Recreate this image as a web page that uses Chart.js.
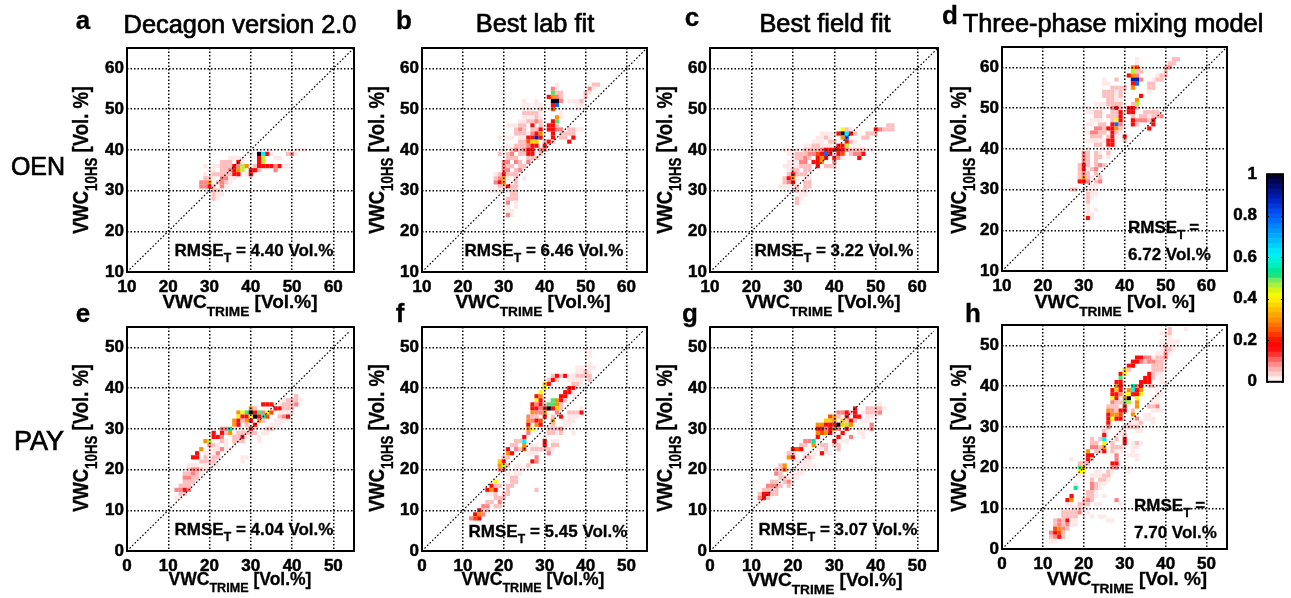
<!DOCTYPE html>
<html>
<head>
<meta charset="utf-8">
<script src="https://cdn.jsdelivr.net/npm/chart.js@4/dist/chart.umd.min.js"></script>
<style>
  html, body { margin: 0; padding: 0; background: #fff; overflow: hidden; }
  #page { position: relative; width: 1291px; height: 598px; font-family: "Liberation Sans", Arial, sans-serif; color: #000; filter: blur(.3px); }
  canvas { position: absolute; }
  .lbl { position: absolute; white-space: nowrap; font-weight: bold; line-height: 1; -webkit-text-stroke: .3px #000; }
  .lbl sub { font-size: .72em; line-height: 0; vertical-align: -.55em; }
  .reg { font-weight: normal; -webkit-text-stroke: .7px #000; }
</style>
</head>
<body>
<div id="page"></div>
<script>
// relative frequency levels
const P = .02, K = .05, S = .09, R = .16, E = .24, O = .3, A = .36, Y = .41, L = .46, G = .5, T = .54, C = .62, B = .78, N = .9, D = 1;

// every row is [VWC_10HS, VWC_TRIME, level, VWC_TRIME, level, ...]
const oenDecagon = [
  [40, 51,P, 52,P, 53,P, 44,P],
  [39, 40,P, 42,D, 43,C, 44,R, 45,P, 49,K, 50,S, 51,P],
  [38, 35,P, 36,P, 37,P, 38,P, 42,R, 43,L, 46,P, 47,P],
  [37, 33,K, 34,K, 35,K, 37,R, 38,P, 42,R, 43,L],
  [36, 29,P, 31,P, 32,P, 33,K, 34,K, 35,K, 36,R, 37,S, 38,L, 39,O, 41,K, 42,R, 43,R, 44,R, 45,R, 46,S, 47,R, 48,P, 49,P],
  [35, 30,P, 31,P, 33,K, 34,K, 35,S, 36,R, 37,O, 38,L, 40,R, 41,R, 42,K, 46,S],
  [34, 29,P, 31,K, 32,K, 33,K, 34,K, 35,K, 36,R, 37,R, 39,P, 40,R],
  [33, 29,K, 30,K, 31,P, 33,S, 34,S, 35,P, 36,P],
  [32, 28,S, 29,S, 30,O, 32,K, 33,S, 34,K, 35,P],
  [31, 28,S, 29,S, 30,R, 31,K, 33,S, 34,P],
  [30, 31,K, 32,K, 33,P],
  [29, 31,K, 32,P, 33,P],
  [28, 31,K, 32,P]
];

const oenLabFit = [
  [56, 43,P, 52,K, 53,K],
  [55, 42,S, 43,P, 51,S, 52,P],
  [54, 42,G, 43,K, 44,K, 50,K, 51,P],
  [53, 41,R, 42,O, 43,S, 44,K, 50,K],
  [52, 35,P, 38,P, 42,D, 43,D, 44,S, 46,P, 47,P, 48,P, 49,K],
  [51, 35,P, 36,P, 38,P, 39,P, 42,R, 43,B, 48,P, 49,P],
  [50, 35,P, 36,P, 37,P, 39,K, 42,E, 48,P],
  [49, 35,K, 36,K, 37,K, 38,K, 39,P, 44,P],
  [48, 35,P, 36,P, 37,P, 38,K, 39,P, 43,O, 44,P],
  [47, 34,P, 35,P, 36,K, 37,K, 38,S, 39,K, 42,R, 43,G],
  [46, 31,P, 32,P, 33,P, 34,K, 35,K, 37,R, 39,K, 41,R, 42,R, 43,K],
  [45, 33,K, 34,S, 35,K, 37,K, 38,K, 39,R, 41,R, 42,R, 43,S, 44,S, 46,K, 47,K, 48,P, 49,P],
  [44, 33,K, 34,K, 35,K, 36,P, 37,S, 38,R, 39,O, 42,R, 44,K, 45,K, 46,K, 47,K],
  [43, 29,P, 31,P, 32,P, 34,P, 35,P, 36,R, 37,R, 38,N, 39,R, 42,R, 44,K, 45,K, 47,R],
  [42, 34,K, 35,K, 36,E, 37,A, 38,A, 40,K, 41,R, 42,K, 46,R],
  [41, 31,P, 33,K, 34,K, 35,K, 36,S, 37,R, 38,R, 40,R],
  [40, 30,P, 32,K, 33,S, 34,K, 35,S, 36,R, 37,R, 39,S, 40,S],
  [39, 29,K, 31,K, 32,S, 34,K, 35,K, 36,R, 37,R, 39,K],
  [38, 31,K, 32,K, 33,K, 36,K, 37,K, 38,K],
  [37, 30,S, 31,S, 33,S, 34,K, 36,S],
  [36, 30,S, 31,K, 32,K, 34,K, 35,K],
  [35, 30,S, 31,S, 33,K, 34,S],
  [34, 28,P, 29,K, 30,R, 31,K, 32,K, 33,K],
  [33, 28,K, 29,S, 30,O, 31,P, 33,K, 35,P],
  [32, 28,S, 29,R, 30,O, 33,K],
  [31, 29,K, 30,K, 31,R, 32,K, 33,K],
  [30, 27,P, 28,P, 29,P, 31,P, 32,K, 33,K],
  [29, 32,K, 33,K],
  [28, 31,K, 32,K, 33,K],
  [27, 31,S, 33,P],
  [26, 31,P, 33,P],
  [25, 31,P, 32,P],
  [24, 31,S, 32,P]
];

const oenFieldFit = [
  [46, 53,K, 54,K],
  [45, 42,Y, 43,K, 44,P, 50,R, 51,S, 52,K, 53,K, 54,K],
  [44, 37,P, 38,P, 39,P, 40,P, 41,R, 42,D, 43,C, 44,R, 45,K, 48,K, 49,K, 50,K],
  [43, 36,P, 37,P, 38,K, 39,P, 42,O, 43,B, 47,K, 48,K],
  [42, 35,P, 36,P, 37,P, 39,K, 40,K, 43,R, 44,K, 45,P],
  [41, 33,P, 34,P, 35,K, 36,K, 37,P, 38,P, 39,P, 40,P, 41,R, 42,R, 43,L],
  [40, 28,P, 29,P, 31,P, 33,K, 34,K, 35,K, 36,K, 37,S, 38,R, 39,R, 40,R, 41,R, 42,R, 43,S, 44,K, 45,K, 46,K, 47,K, 48,P, 49,P],
  [39, 29,P, 30,P, 31,K, 32,K, 33,K, 34,S, 35,S, 36,E, 37,R, 38,B, 39,R, 41,R, 42,E, 44,K, 45,S, 46,S, 47,R],
  [38, 30,P, 31,K, 32,K, 33,S, 34,K, 36,R, 37,O, 38,R, 40,R, 41,S, 42,P, 46,R],
  [37, 29,P, 30,P, 31,P, 32,S, 33,S, 35,R, 36,R, 37,O, 40,S],
  [36, 28,P, 29,P, 30,P, 31,P, 32,K, 33,K, 34,K, 36,R, 38,K, 39,K, 40,K],
  [35, 29,P, 30,K, 31,K, 33,K, 34,K],
  [34, 29,K, 30,R, 31,K, 32,K, 33,K],
  [33, 28,K, 29,R, 30,O, 31,P, 33,P, 34,P],
  [32, 28,K, 29,S, 30,R, 33,K, 34,K],
  [31, 27,P, 28,P, 29,P, 30,P, 31,K, 33,K, 34,K],
  [30, 31,K, 32,P, 33,K],
  [29, 32,P, 33,P],
  [28, 31,K, 32,P],
  [27, 31,K]
];

const oenMixing = [
  [62, 43,P, 52,K, 53,K],
  [61, 43,P, 51,K, 52,K],
  [60, 42,O, 43,E, 50,K, 51,S],
  [59, 42,L, 43,K, 44,K, 50,K],
  [58, 41,R, 42,O, 43,S, 48,P, 49,K, 50,K],
  [57, 35,P, 38,K, 42,N, 43,N, 44,S, 47,P, 48,K, 49,K],
  [56, 35,P, 36,P, 42,R, 43,B, 46,K, 47,K],
  [55, 37,K, 38,K, 39,K, 40,K, 42,O, 46,K, 47,K],
  [54, 35,K, 36,K, 37,K, 38,P, 39,K, 46,P],
  [53, 35,K, 36,K, 37,K, 38,P, 39,K, 44,R],
  [52, 36,K, 37,K, 38,P, 39,P, 43,O],
  [51, 33,P, 34,P, 35,P, 36,K, 37,K, 38,K, 39,K, 42,K, 43,L],
  [50, 31,P, 34,P, 35,P, 37,S, 38,R, 39,K, 41,R, 42,R, 43,K],
  [49, 31,P, 32,P, 33,K, 34,K, 37,K, 38,K, 39,R, 41,R, 42,R, 45,K, 46,K, 47,K, 48,K],
  [48, 33,K, 34,K, 36,K, 37,K, 38,K, 39,R, 42,K, 44,K, 45,K, 46,P, 47,K, 48,K, 49,S],
  [47, 32,P, 33,P, 34,P, 37,K, 38,Y, 39,R, 42,R, 43,S, 44,S, 45,S, 46,K, 47,R],
  [46, 31,P, 32,P, 34,K, 35,K, 37,R, 38,B, 39,S, 42,R, 43,K, 47,R],
  [45, 30,P, 33,S, 34,S, 35,K, 36,R, 37,R, 38,O, 39,K, 46,R],
  [44, 31,P, 32,S, 33,S, 34,K, 35,K, 37,R, 38,K, 39,P],
  [43, 32,K, 33,K, 34,K, 36,K, 37,R, 38,P, 40,R],
  [42, 31,P, 32,P, 33,P, 34,P, 35,P, 36,R, 37,R, 40,K],
  [41, 33,K, 34,K, 36,R, 37,R],
  [40, 31,P, 35,P, 36,P],
  [39, 30,S, 31,K, 33,K, 34,P, 36,K],
  [38, 30,S, 31,K, 33,K, 34,K, 36,P],
  [37, 30,S, 31,K, 33,K],
  [36, 29,K, 30,R, 31,K, 33,K, 34,S, 35,K],
  [35, 29,K, 30,R, 31,P, 32,K, 33,S],
  [34, 29,K, 30,S, 31,K, 33,K],
  [33, 29,K, 30,O, 31,K, 32,P, 34,K],
  [32, 29,R, 30,R, 31,S, 33,K, 34,S],
  [31, 32,P, 33,P],
  [30, 27,K, 28,K, 31,P, 32,P, 33,P],
  [29, 31,K, 32,P, 33,P],
  [28, 31,K, 32,P],
  [27, 31,K],
  [26, 31,P],
  [25, 31,P, 33,P],
  [24, 31,P, 32,P],
  [23, 31,R, 32,P]
];

const payDecagon = [
  [38, 41,K],
  [37, 38,P, 39,K, 40,K, 41,K, 42,P],
  [36, 33,R, 34,R, 35,R, 37,P, 38,K, 39,K, 40,K, 41,S],
  [35, 30,O, 31,K, 36,R, 37,R, 38,K, 39,K, 40,K],
  [34, 27,O, 28,Y, 29,G, 30,D, 31,R, 32,G, 33,S, 34,Y, 35,E, 37,P, 38,P, 39,P, 40,P],
  [33, 27,Y, 28,R, 29,R, 30,Y, 31,D, 32,R, 33,T, 34,E, 37,K, 38,S, 39,R],
  [32, 26,O, 27,R, 28,K, 29,O, 30,R, 32,O, 33,K, 36,P, 37,P, 38,P],
  [31, 26,O, 27,R, 29,K, 31,R, 35,P, 36,P, 37,P],
  [30, 23,S, 24,S, 25,T, 26,P, 28,P, 30,R, 34,K, 35,K],
  [29, 21,R, 23,R, 24,K, 25,O, 27,K, 28,K, 29,K, 30,K, 31,K, 33,P, 34,P],
  [28, 21,R, 22,R, 23,S, 26,K, 27,K, 28,R, 29,P, 32,P],
  [27, 19,O, 20,L, 23,K, 24,P, 26,K, 27,K, 28,K, 32,P],
  [26, 20,S, 21,K, 22,P, 24,P, 26,P],
  [25, 18,O, 20,P, 21,P, 22,P, 23,S, 24,P, 25,P],
  [24, 17,R, 19,P, 20,P, 21,P, 22,S],
  [23, 16,R, 17,R, 19,K, 21,K, 22,K, 28,P, 29,P],
  [22, 18,K, 19,K, 20,K, 21,K, 28,P],
  [21, 15,P, 16,P, 17,P, 19,P, 20,P, 21,P, 22,P],
  [20, 15,K, 16,S, 17,S, 18,K, 19,P],
  [19, 14,K, 15,K, 16,S, 17,K, 18,P],
  [18, 14,S, 15,S, 16,K, 17,K],
  [17, 14,K, 15,K, 16,K],
  [16, 13,K, 14,K, 15,K],
  [15, 12,S, 13,S, 14,R, 15,S],
  [14, 13,K, 14,K],
  [13, 12,P, 13,P]
];

const payLabFit = [
  [49, 41,P],
  [48, 41,P],
  [46, 41,P],
  [45, 38,P, 39,P, 40,P, 41,P, 42,P],
  [44, 38,P, 39,P, 40,K, 41,P],
  [43, 32,K, 33,R, 34,K, 35,R, 36,P, 37,P, 38,K, 39,K, 40,K, 41,K],
  [42, 31,K, 32,R, 33,K, 36,P, 37,P, 38,P, 39,P, 41,K],
  [41, 30,A, 31,R, 37,K, 38,K, 39,P],
  [40, 30,Y, 36,R, 37,R, 38,P],
  [39, 29,Y, 30,P, 35,R, 36,R, 37,P],
  [38, 28,R, 29,O, 34,R, 35,R, 37,P],
  [37, 28,Y, 29,R, 31,P, 32,G, 33,O, 34,R, 35,K],
  [36, 27,R, 28,S, 29,R, 30,K, 31,G, 32,G, 33,O, 34,K],
  [35, 27,R, 28,R, 29,S, 30,R, 31,D, 32,R, 33,A, 34,K, 39,P],
  [34, 27,O, 28,S, 29,S, 30,O, 33,S, 36,K, 37,K, 38,K, 39,R],
  [33, 26,S, 27,K, 28,K, 30,R, 32,K, 34,R, 36,P, 37,P, 38,P],
  [32, 26,O, 27,S, 28,R, 29,E, 32,O, 35,P, 36,P, 37,P],
  [31, 26,R, 28,O, 29,R, 32,K, 35,P, 36,P],
  [30, 26,O, 27,Y, 31,K, 32,K, 33,K, 34,S],
  [29, 26,S, 31,K, 32,K, 33,P, 34,K, 37,P],
  [28, 25,R, 30,P],
  [27, 23,K, 24,K, 25,C, 30,R, 32,P, 33,P],
  [26, 22,K, 23,K, 25,O, 27,P, 28,P, 30,R, 32,K, 33,K],
  [25, 21,R, 23,S, 24,K, 25,E, 27,K, 28,K, 29,K, 30,K, 31,K, 32,P],
  [24, 21,O, 22,R, 26,P, 27,P, 28,P, 31,S],
  [23, 20,K, 21,K, 28,S],
  [22, 19,A, 20,R, 21,P, 27,R, 28,S],
  [21, 19,O, 20,L, 21,K, 23,P, 24,P, 26,K],
  [20, 19,S, 20,S, 23,P, 24,P, 25,P],
  [19, 21,P, 23,P, 24,P],
  [18, 22,K, 23,K],
  [17, 18,Y, 22,K, 23,K],
  [16, 17,R, 18,K, 19,K, 21,K, 22,K],
  [15, 16,R, 17,O, 18,R, 21,K, 28,K],
  [14, 16,P, 17,P, 18,K, 20,K, 21,K],
  [13, 18,K, 19,K, 20,K],
  [12, 16,K, 17,K, 19,S, 20,P],
  [11, 15,S, 16,S, 18,K, 19,K],
  [10, 14,R, 15,K, 16,K],
  [9, 13,R, 14,O, 15,S],
  [8, 12,S, 13,E, 14,R]
];

const payFieldFit = [
  [36, 41,P],
  [35, 35,R, 38,K, 39,K, 40,K, 41,K, 42,P],
  [34, 31,S, 32,S, 33,R, 34,K, 35,R, 37,P, 38,K, 39,K, 40,K, 41,S],
  [33, 29,E, 30,O, 31,K, 33,R, 35,R, 36,R, 38,P, 39,P, 40,P],
  [32, 28,A, 29,A, 30,O, 32,A, 33,K, 34,R, 35,K, 37,P, 38,P],
  [31, 26,O, 27,O, 28,R, 29,R, 30,R, 31,D, 32,A, 33,L, 34,O, 39,S],
  [30, 26,R, 27,R, 28,S, 29,R, 30,O, 31,S, 33,R, 36,P, 37,P, 38,P, 39,S],
  [29, 26,O, 27,E, 28,O, 29,R, 32,R, 36,P, 37,P],
  [28, 26,R, 31,R, 34,S, 37,P],
  [27, 23,S, 24,S, 25,T, 30,R, 32,P, 33,P],
  [26, 22,K, 23,K, 25,O, 27,K, 28,K, 30,K, 31,K],
  [25, 20,R, 21,E, 22,R, 26,P, 27,P, 28,K, 31,K],
  [24, 19,K, 20,K, 23,P, 24,P, 25,P, 27,R, 28,P, 29,P],
  [23, 19,O, 20,R, 23,K, 24,K, 25,P],
  [22, 21,P, 22,P, 23,P, 24,P],
  [21, 17,K, 18,O, 22,P, 23,P, 24,P, 25,P],
  [20, 16,K, 17,K, 18,E, 21,P, 22,P, 23,P, 28,P],
  [19, 16,S, 17,K, 19,P, 20,P, 21,P, 22,P],
  [18, 17,K, 18,K, 19,P, 20,P, 21,P],
  [17, 15,K, 16,K, 18,K, 19,S, 20,P],
  [16, 14,S, 15,S, 16,S, 17,K, 19,K],
  [15, 13,K, 14,K, 15,K, 16,K],
  [14, 12,K, 13,R, 14,R, 15,K, 16,K],
  [13, 12,S, 13,R, 14,K],
  [12, 12,P]
];

const payMixing = [
  [54, 41,K, 45,P],
  [53, 39,P, 40,P, 41,K],
  [52, 40,P, 41,P],
  [51, 39,P, 41,P, 42,P, 43,P],
  [50, 39,P, 40,K, 41,P, 42,P],
  [49, 39,P, 40,K, 41,K, 42,P],
  [48, 38,P, 39,P, 40,S, 41,P],
  [47, 33,R, 34,R, 35,S, 36,S, 37,P, 38,K, 39,K, 40,S],
  [46, 32,R, 33,R, 34,S, 35,K, 36,S, 37,S, 38,K, 39,K, 40,P],
  [45, 31,R, 32,R, 37,K, 38,K, 39,K, 40,P],
  [44, 30,A, 31,K, 37,K, 38,K, 39,K, 40,P],
  [43, 29,R, 30,Y, 36,R, 37,K, 38,P, 39,P],
  [42, 29,G, 35,R, 36,R, 37,K, 39,P],
  [41, 28,R, 29,R, 34,R, 35,R, 36,R, 39,P, 40,P],
  [40, 28,O, 29,R, 32,T, 33,S, 34,R, 36,K, 37,K],
  [39, 27,R, 28,A, 29,R, 31,O, 32,C, 33,R, 34,O, 38,P],
  [38, 27,R, 28,R, 29,S, 30,Y, 31,Y, 32,R, 33,R, 34,Y, 38,P, 39,P],
  [37, 27,Y, 28,R, 29,P, 30,O, 31,D, 33,Y, 37,P, 38,P],
  [36, 27,S, 28,K, 29,K, 30,G, 31,L, 33,O, 37,P, 38,P],
  [35, 26,K, 27,K, 28,K, 30,R, 33,O, 36,K, 37,K, 38,S],
  [34, 26,O, 27,S, 28,K, 29,R, 30,R, 32,K, 37,P, 38,P, 39,P],
  [33, 26,R, 27,O, 28,O, 29,E, 32,O, 35,P, 36,P],
  [32, 26,R, 27,Y, 28,R, 29,R, 32,P, 33,S, 35,P, 36,P, 37,P],
  [31, 26,R, 31,P, 32,P, 33,P, 34,K, 37,P],
  [30, 26,S, 30,K, 31,K, 32,K, 33,K, 34,P],
  [29, 25,K, 26,P, 29,P, 30,P, 33,P, 34,P],
  [28, 25,R, 28,P, 29,P, 30,K],
  [27, 22,K, 24,K, 25,C, 28,K, 30,R],
  [26, 22,K, 23,K, 25,Y, 27,K, 30,R, 32,P, 33,K, 34,P],
  [25, 22,S, 23,S, 24,K, 25,O, 27,K, 28,K, 29,K, 32,P, 33,P],
  [24, 21,O, 23,K, 24,K, 25,R, 27,K, 28,P, 29,P, 32,P],
  [23, 21,R, 22,R, 28,S, 31,P, 32,P, 33,P],
  [22, 17,P, 21,R, 22,K, 28,S, 33,P],
  [21, 19,K, 20,K, 21,K, 27,R, 28,R],
  [20, 19,G, 20,A, 27,S, 28,S, 31,P],
  [19, 19,Y, 20,Y, 23,P, 24,P, 26,K, 27,P, 31,P],
  [18, 19,P, 20,P, 22,P, 23,P, 24,P, 25,K, 26,K],
  [17, 22,K, 24,K, 25,K, 26,P],
  [16, 18,P, 22,S, 23,K, 24,P, 25,P],
  [15, 18,T, 22,S, 23,K, 24,P],
  [14, 21,K, 22,K, 23,P],
  [13, 17,R, 21,K, 22,K, 23,P, 25,P],
  [12, 16,R, 17,O, 20,K, 21,S, 22,K, 28,S],
  [11, 16,P, 17,P, 19,K, 20,K, 21,K, 23,P, 24,P, 29,P],
  [10, 17,P, 18,P, 19,K, 20,P],
  [9, 15,K, 16,K, 17,K, 18,K, 19,S, 20,P, 21,P],
  [8, 15,K, 16,K, 17,K, 18,K, 20,P, 22,P, 24,P, 25,P],
  [7, 13,K, 14,S, 15,K, 16,R, 17,P, 18,P, 26,P, 27,P],
  [6, 13,K, 14,S, 15,K, 16,S, 17,P, 18,P],
  [5, 13,E, 14,O, 15,S, 16,K],
  [4, 12,S, 13,R, 14,E, 15,K],
  [3, 12,K, 13,S, 14,R, 15,K],
  [2, 12,P, 13,P]
];

const oenRange = [10, 65];
const payRange = [0, 55];
const colorbarTicks = [0, .2, .4, .6, .8, 1];

// colour map
const mapStops = [0, .02, .05, .09, .14, .17, .21, .25, .3, .36, .41, .45, .48, .52, .56, .62, .7, .8, .88, .95, 1];
const mapColors = [
  [255,255,255], [255,232,232], [255,190,190], [255,130,130], [255,30,30], [255,0,0], [255,30,0],
  [255,90,0], [255,145,0], [255,205,0], [255,250,0], [200,245,30], [140,240,90], [0,225,130],
  [0,240,190], [0,240,255], [0,170,255], [0,90,255], [0,30,190], [0,10,100], [0,0,30]
];

function levelColor(v) {
  let i = 0;
  while (i < mapStops.length - 2 && v > mapStops[i + 1]) i++;
  const f = Math.min(1, (v - mapStops[i]) / (mapStops[i + 1] - mapStops[i]));
  const c = mapColors[i].map((a, k) => Math.round(a + (mapColors[i + 1][k] - a) * f));
  return `rgb(${c[0]},${c[1]},${c[2]})`;
}

function toPoints(rows) {
  const pts = [];
  rows.forEach(r => {
    for (let i = 1; i < r.length; i += 2) pts.push({ x: r[i], y: r[0], v: r[i + 1] });
  });
  return pts;
}

const page = document.getElementById('page');
const TICK_FONT = { family: '"Liberation Sans", Arial, sans-serif', size: 17, weight: 'bold' };

// black box round the plot area
const framePlugin = {
  id: 'frame',
  afterDraw(chart) {
    const a = chart.chartArea, ctx = chart.ctx;
    ctx.save();
    ctx.strokeStyle = '#000';
    ctx.lineWidth = 2;
    ctx.strokeRect(a.left, a.top, a.right - a.left, a.bottom - a.top);
    ctx.restore();
  }
};

// short inward ticks on the colour bar
const barTicksPlugin = {
  id: 'barTicks',
  afterDraw(chart) {
    const a = chart.chartArea, ctx = chart.ctx, s = chart.scales.y;
    ctx.save();
    ctx.strokeStyle = '#000';
    ctx.lineWidth = 1;
    colorbarTicks.forEach(v => {
      const py = Math.round(s.getPixelForValue(v)) + .5;
      ctx.beginPath();
      ctx.moveTo(a.left, py); ctx.lineTo(a.left + 2, py);
      ctx.moveTo(a.right - 2, py); ctx.lineTo(a.right, py);
      ctx.stroke();
    });
    ctx.restore();
  }
};

function makeCanvas(left, top, width, height) {
  const c = document.createElement('canvas');
  c.width = width;
  c.height = height;
  c.style.left = left + 'px';
  c.style.top = top + 'px';
  page.appendChild(c);
  return c;
}

function axisOpts(range, fit) {
  return {
    type: 'linear',
    min: range[0],
    max: range[1],
    afterFit: fit,
    grid: { color: '#000', lineWidth: 1.5, drawTicks: false, z: 1 },
    border: { display: false, dash: [1.5, 2] },
    ticks: { stepSize: 10, includeBounds: false, autoSkip: false, maxRotation: 0, color: '#000', font: TICK_FONT, padding: 3, textStrokeColor: '#000', textStrokeWidth: .5 }
  };
}

const PAD_L = 50, PAD_B = 32, PAD_T = 24, PAD_R = 8;

function heatPanel(rows, range, box) {
  const [l, r, t, b] = box;
  const w = r - l, h = b - t;
  const cv = makeCanvas(l - PAD_L, t - PAD_T, w + PAD_L + PAD_R, h + PAD_T + PAD_B);
  const x = axisOpts(range, s => { s.height = PAD_B; });
  x.ticks.padding = 5;
  const y = axisOpts(range, s => { s.width = PAD_L; });
  new Chart(cv, {
    type: 'scatter',
    data: {
      datasets: [
        {
          data: toPoints(rows),
          pointStyle: 'rect',
          pointRadius: (w / (range[1] - range[0])) / 2 * Math.SQRT2 + .05,
          pointBorderWidth: 0,
          pointBackgroundColor: c => levelColor(c.raw.v),
          order: 2
        },
        {
          data: [{ x: range[0], y: range[0] }, { x: range[1] - (range[0] ? 0 : 1), y: range[1] - (range[0] ? 0 : 1) }],
          showLine: true,
          pointRadius: 0,
          borderColor: '#000',
          borderWidth: 1.2,
          borderDash: [1.6, 2],
          order: 1
        }
      ]
    },
    options: {
      responsive: false,
      animation: false,
      layout: { padding: { left: 0, right: PAD_R, top: PAD_T, bottom: 0 } },
      plugins: { legend: { display: false }, tooltip: { enabled: false } },
      scales: { x, y }
    },
    plugins: [framePlugin]
  });
}

// [rows, range, [left, right, top, bottom]]
heatPanel(oenDecagon, oenRange, [126.5, 354, 47.7, 271.7]);
heatPanel(oenLabFit, oenRange, [421.7, 647, 47.7, 271.7]);
heatPanel(oenFieldFit, oenRange, [710, 938, 47.7, 271.7]);
heatPanel(oenMixing, oenRange, [1001.7, 1226.7, 46.7, 270.7]);
heatPanel(payDecagon, payRange, [126.5, 354, 326.7, 550.7]);
heatPanel(payLabFit, payRange, [421.7, 647, 326.7, 550.7]);
heatPanel(payFieldFit, payRange, [710, 938, 326.7, 550.7]);
heatPanel(payMixing, payRange, [1001.7, 1226.7, 325, 549.3]);

// colour bar: a stack of equal bands
const BANDS = 42;
const bandSets = [];
for (let i = 0; i < BANDS; i++) {
  bandSets.push({ data: [1 / BANDS], backgroundColor: levelColor((i + .5) / BANDS), borderWidth: 0, barPercentage: 1, categoryPercentage: 1 });
}
new Chart(makeCanvas(1226, 162, 63, 232), {
  type: 'bar',
  data: { labels: [''], datasets: bandSets },
  options: {
    responsive: false,
    animation: false,
    layout: { padding: { left: 0, right: 6, top: 10, bottom: 11 } },
    plugins: { legend: { display: false }, tooltip: { enabled: false } },
    scales: {
      x: { stacked: true, display: false },
      y: {
        stacked: true, min: 0, max: 1,
        afterFit: s => { s.width = 41; },
        afterBuildTicks: s => { s.ticks = colorbarTicks.map(value => ({ value })); },
        grid: { display: false },
        border: { display: false },
        ticks: { color: '#000', font: { ...TICK_FONT, size: 17 }, padding: 2, callback: v => String(v), textStrokeColor: '#000', textStrokeWidth: .5 }
      }
    }
  },
  plugins: [framePlugin, barTicksPlugin]
});

const TRIME = 'VWC<sub>TRIME</sub> ';
const HS = 'VWC<sub>10HS</sub> ';
const RMSE = 'RMSE<sub>T</sub> ';

// [text, x, y, font px, anchor, extra class]
const labels = [
  ['a', 83, 20, 26], ['b', 404, 20, 26], ['c', 692, 17, 26], ['d', 950, 15, 26],
  ['e', 83, 313, 26], ['f', 400, 313, 26], ['g', 690, 313, 26], ['h', 973, 313, 26],
  ['Decagon version 2.0', 240, 25, 25.4, 'c', 'reg'],
  ['Best lab fit', 535, 24, 25.4, 'c', 'reg'],
  ['Best field fit', 825, 24, 25.4, 'c', 'reg'],
  ['Three-phase mixing model', 1113, 24, 25.4, 'c', 'reg'],
  ['OEN', 38, 166, 25, 'c', 'reg'],
  ['PAY', 39, 441, 27, 'c', 'reg'],
  [RMSE + '= 4.40 Vol.%', 254, 250, 17, 'c'],
  [RMSE + '= 6.46 Vol.%', 544, 250, 17, 'c'],
  [RMSE + '= 3.22 Vol.%', 834, 250, 17, 'c'],
  [RMSE + '=', 1128, 227, 17, 'l'],
  ['6.72 Vol.%', 1128, 254, 17, 'l'],
  [RMSE + '= 4.04 Vol.%', 254, 529, 17, 'c'],
  [RMSE + '= 5.45 Vol.%', 548, 531, 17, 'c'],
  [RMSE + '= 3.07 Vol.%', 838, 529, 17, 'c'],
  [RMSE + '=', 1134, 505, 17, 'l'],
  ['7.70 Vol.%', 1134, 532, 17, 'l'],
  [TRIME + '[Vol.%]', 240, 302, 19, 'c'],
  [TRIME + '[Vol.%]', 533, 302, 19, 'c'],
  [TRIME + '[Vol.%]', 823, 302, 19, 'c'],
  [TRIME + '[Vol. %]', 1115, 302, 19, 'c'],
  [TRIME + '[Vol.%]', 240, 580, 17.5, 'c'],
  [TRIME + '[Vol.%]', 533, 580, 17.5, 'c'],
  [TRIME + '[Vol.%]', 825, 580, 19, 'c'],
  [TRIME + '[Vol. %]', 1127, 579, 19, 'c'],
  [HS + '[Vol. %]', 81, 160, 18.5, 'r'],
  [HS + '[Vol. %]', 376.5, 160, 18.5, 'r'],
  [HS + '[Vol. %]', 665, 160, 18.5, 'r'],
  [HS + '[Vol. %]', 959, 160, 18.5, 'r'],
  [HS + '[Vol. %]', 81, 438, 18.5, 'r'],
  [HS + '[Vol. %]', 376.5, 438, 18.5, 'r'],
  [HS + '[Vol. %]', 665, 438, 18.5, 'r'],
  [HS + '[Vol. %]', 959, 438, 18.5, 'r']
];

labels.forEach(([html, x, y, size, anchor, cls]) => {
  const el = document.createElement('div');
  el.className = 'lbl' + (cls ? ' ' + cls : '');
  el.innerHTML = html;
  el.style.left = x + 'px';
  el.style.top = y + 'px';
  el.style.fontSize = size + 'px';
  let tf = 'translate(-50%,-50%)';
  if (anchor === 'l') tf = 'translate(0,-50%)';
  if (anchor === 'r') tf = 'translate(-50%,-50%) rotate(-90deg) scaleY(1.2)';
  el.style.transform = tf;
  page.appendChild(el);
});
</script>
</body>
</html>
